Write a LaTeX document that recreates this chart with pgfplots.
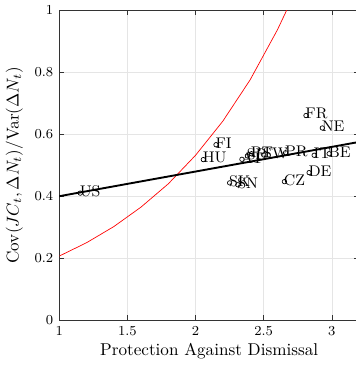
\documentclass[border=0pt]{standalone}
\usepackage{pgfplots}
\pgfplotsset{compat=1.18}
\usepackage{pgfplotstable}
\pgfplotstableread{
x y lab
1.154 0.410 US
2.057 0.518 HU
2.150 0.566 FI
2.810 0.660 FR
2.930 0.620 NE
2.250 0.443 SK
2.310 0.437 SN
2.652 0.447 CZ
2.833 0.476 DE
2.340 0.519 AT
2.380 0.530 SP
2.410 0.537 PT
2.500 0.533 SW
2.660 0.540 PR
2.870 0.532 IT
2.980 0.537 BE
}\pts
\begin{document}
\begin{tikzpicture}
\begin{axis}[name=ax,
  scale only axis, width=175pt, height=181pt,
  xmin=1, xmax=3.2, ymin=0, ymax=1,
  xtick={1,1.5,2,2.5,3}, ytick={0,0.2,0.4,0.6,0.8,1},
  tick align=inside, tick style={black!80, thin}, major tick length=3pt,
  grid=major, grid style={black!10, thin},
  axis line style={black!80, semithick},
  ticklabel style={font=\footnotesize},
  xlabel={Protection Against Dismissal},
  ylabel={$\mathrm{Cov}(JC_t,\Delta N_t)/\mathrm{Var}(\Delta N_t)$},
  xlabel style={yshift=2pt},
  ylabel style={yshift=0pt},
  clip=true,
]
\addplot[red, thin] coordinates {(1,0.207) (1.2,0.250) (1.4,0.302) (1.6,0.365) (1.8,0.440) (2.0,0.532) (2.2,0.642) (2.4,0.775) (2.6,0.936) (2.7,1.029)};
\addplot[black, line width=1.1pt] coordinates {(1,0.400) (3.2,0.575)};
\addplot[only marks, mark=o, mark size=1.3pt, black, thin,
  nodes near coords, point meta=explicit symbolic,
  every node near coord/.style={anchor=west, font=\small, inner sep=0.5pt, xshift=-1pt, yshift=1pt}]
  table[x=x, y=y, meta=lab] {\pts};
\coordinate (R) at (axis cs:3.17,0);
\end{axis}
\pgfresetboundingbox
\path[use as bounding box] (ax.outer south west) rectangle (R |- ax.outer north);
\end{tikzpicture}
\end{document}
